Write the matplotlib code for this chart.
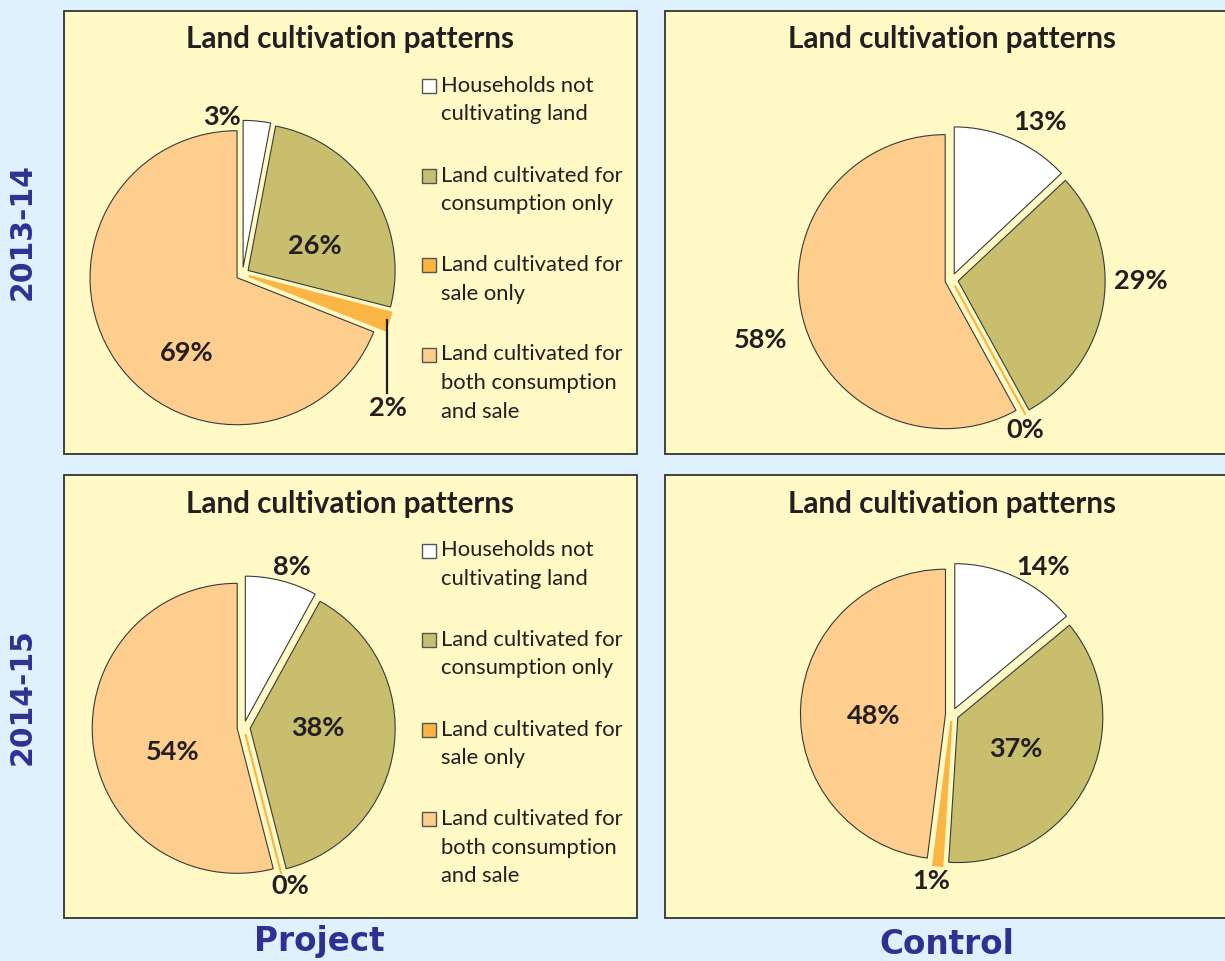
import numpy as np
import matplotlib.pyplot as plt
from matplotlib.patches import Rectangle

# categories / legend text
categories = ['Households not cultivating land',
              'Land cultivated for consumption only',
              'Land cultivated for sale only',
              'Land cultivated for both consumption and sale']
legend_lines = [['Households not', 'cultivating land'],
                ['Land cultivated for', 'consumption only'],
                ['Land cultivated for', 'sale only'],
                ['Land cultivated for', 'both consumption', 'and sale']]

# shares (%) per panel, in category order
project_1314 = [3, 26, 2, 69]
control_1314 = [13, 29, 0, 58]
project_1415 = [8, 38, 0, 54]
control_1415 = [14, 37, 1, 48]

years = ['2013-14', '2014-15']
groups = ['Project', 'Control']
title = 'Land cultivation patterns'

colors = ['#FFFFFF', '#C8BE6E', '#FBB545', '#FDCE8E']
blue = '#2E3192'
dark = '#231F20'

W, H = 1225, 961
fig = plt.figure(figsize=(W / 100, H / 100), dpi=100)
fig.patch.set_facecolor('#DFF1FD')
bg = fig.add_axes([0, 0, 1, 1])
bg.set_xlim(0, W)
bg.set_ylim(H, 0)
bg.axis('off')

# panel layout in pixels: rect, pie centre, radius, label offsets (radius units)
panels = [
    dict(vals=project_1314, rect=(63.5, 10.5, 573, 443), c=(242.5, 274), r=147,
         lab=[(-0.14, 1.07), (0.49, 0.19), (0.99, -0.91), (-0.38, -0.54)], legend=True, leader=2),
    dict(vals=control_1314, rect=(665, 10.5, 600, 443), c=(951.6, 280), r=147,
         lab=[(0.60, 1.075), (1.29, -0.01), (0.50, -1.02), (-1.30, -0.41)], legend=False),
    dict(vals=project_1415, rect=(63.5, 475, 573, 443), c=(243.7, 727.5), r=145,
         lab=[(0.33, 1.11), (0.51, 0.0), (0.32, -1.09), (-0.49, -0.17)], legend=True),
    dict(vals=control_1415, rect=(665, 475, 600, 443), c=(952, 714.6), r=145,
         lab=[(0.63, 1.02), (0.44, -0.24), (-0.14, -1.15), (-0.54, -0.01)], legend=False),
]

title_font = dict(family='Lato', fontweight='bold', fontsize=21.3, color=dark)
pct_font = dict(family='Lato', fontweight='bold', fontsize=19.5, color=dark)
leg_font = dict(family='Lato', fontsize=15.8, color=dark)

for p in panels:
    x0, y0, w, h = p['rect']
    bg.add_patch(Rectangle((x0, y0), w, h, facecolor='#FFF9C5',
                           edgecolor='#333333', linewidth=1.3, zorder=1))
    tx = x0 + 287
    bg.text(tx, y0 + 28.5, title, ha='center', va='center', zorder=3, **title_font)

    cx, cy = p['c']
    r = p['r']
    S = 230
    ax = fig.add_axes([(cx - S) / W, (H - cy - S) / H, 2 * S / W, 2 * S / H])
    wedges, _ = ax.pie(p['vals'], colors=colors, startangle=90, counterclock=False,
                       explode=[0.045] * 4, radius=1, frame=True,
                       wedgeprops=dict(edgecolor='#3a3a3a', linewidth=0.8))
    wedges[2].set_edgecolor(colors[2])
    wedges[2].set_linewidth(1.6)
    ax.set_xlim(-S / r, S / r)
    ax.set_ylim(-S / r, S / r)
    ax.set_axis_off()

    for v, (lx, ly) in zip(p['vals'], p['lab']):
        ax.text(lx, ly, f'{v}%', ha='center', va='center', **pct_font)

    if 'leader' in p:
        wd = wedges[p['leader']]
        lx, ly = p['lab'][p['leader']]
        th = np.deg2rad((wd.theta1 + wd.theta2) / 2)
        sy = wd.center[1] + np.sin(th) * 0.97
        ax.plot([lx - 0.01, lx - 0.01], [sy, ly + 0.1], color=dark, linewidth=1.6)

    if p['legend']:
        top = y0 + 75.5
        for i, lines in enumerate(legend_lines):
            yy = top + i * 89.5
            bg.add_patch(Rectangle((422, yy - 7), 14, 14, facecolor=colors[i],
                                   edgecolor='#555555', linewidth=1, zorder=3))
            for k, line in enumerate(lines):
                bg.text(441, yy + k * 28.5, line, ha='left', va='center', zorder=3, **leg_font)

row_font = dict(family='DejaVu Sans', fontweight='bold', fontsize=21.5, color=blue)
bg.text(22, 232, years[0], rotation=90, ha='center', va='center', **row_font)
bg.text(22, 697, years[1], rotation=90, ha='center', va='center', **row_font)

col_font = dict(family='DejaVu Sans', fontweight='bold', fontsize=23.5, color=blue)
bg.text(319, 942, groups[0], ha='center', va='center', **col_font)
bg.text(947, 945, groups[1], ha='center', va='center', **col_font)

fig.savefig('out.png', dpi=100, facecolor=fig.get_facecolor())
